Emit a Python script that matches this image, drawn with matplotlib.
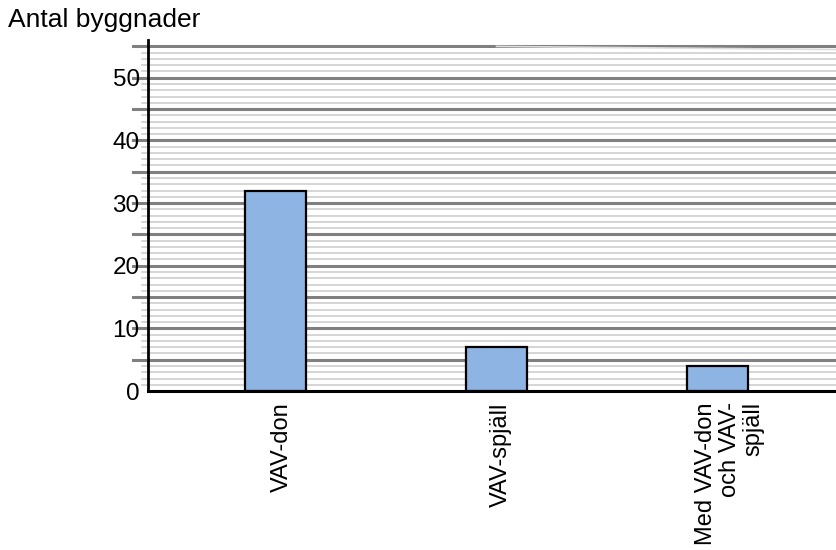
import matplotlib.pyplot as plt
import matplotlib.transforms as mtransforms
import numpy as np

categories = ["VAV-don", "VAV-spjäll", "Med VAV-don\noch VAV-\nspjäll"]
values = [32, 7, 4]
y_ticks = [0, 10, 20, 30, 40, 50]

plt.rcParams['font.family'] = ['Liberation Sans', 'DejaVu Sans']

fig = plt.figure(figsize=(8.36, 5.5), dpi=100)
ax = fig.add_axes([0.177, 0.289, 0.823, 0.638])

x = np.arange(len(categories))
ax.set_xlim(-0.577, 2.536)
ax.set_ylim(0, 56)

# grid: light line every unit, dark every 5 units, drawn a bit past the y axis
for v in range(1, 56):
    if v % 5 == 0:
        ax.axhline(v, xmin=-0.022, xmax=1, color='#808080', lw=2.2, zorder=1, clip_on=False)
    else:
        ax.axhline(v, xmin=-0.008, xmax=1, color='#cacaca', lw=1.1, zorder=1, clip_on=False)
# faint sloping line under the top grid line
ax.plot([1.0, 2.536], [55, 54.5], color='#dddddd', lw=1.2, zorder=1)

ax.bar(x, values, width=0.28, color='#8eb4e3', edgecolor='black', linewidth=1.6, zorder=3)

for s in ['top', 'right']:
    ax.spines[s].set_visible(False)
ax.spines['left'].set_linewidth(2)
ax.spines['bottom'].set_linewidth(2.2)
ax.spines['left'].set_zorder(4)
ax.spines['bottom'].set_zorder(4)

ax.set_yticks(y_ticks)
ax.set_yticklabels([str(t) for t in y_ticks], fontsize=17.5)
ax.tick_params(axis='y', length=0, pad=6)

ax.set_xticks(x)
ax.set_xticklabels(categories, rotation=90, fontsize=17, va='top', ha='center',
                   multialignment='right', linespacing=1.1)
ax.tick_params(axis='x', length=0, pad=8)
shifts = [6, 4, 12]
for lbl, dx in zip(ax.get_xticklabels(), shifts):
    lbl.set_transform(lbl.get_transform() +
                      mtransforms.ScaledTranslation(dx / 100, 0, fig.dpi_scale_trans))

fig.text(0.01, 0.963, "Antal byggnader", fontsize=19, va='center', ha='left')

fig.savefig('out.png', dpi=100)
